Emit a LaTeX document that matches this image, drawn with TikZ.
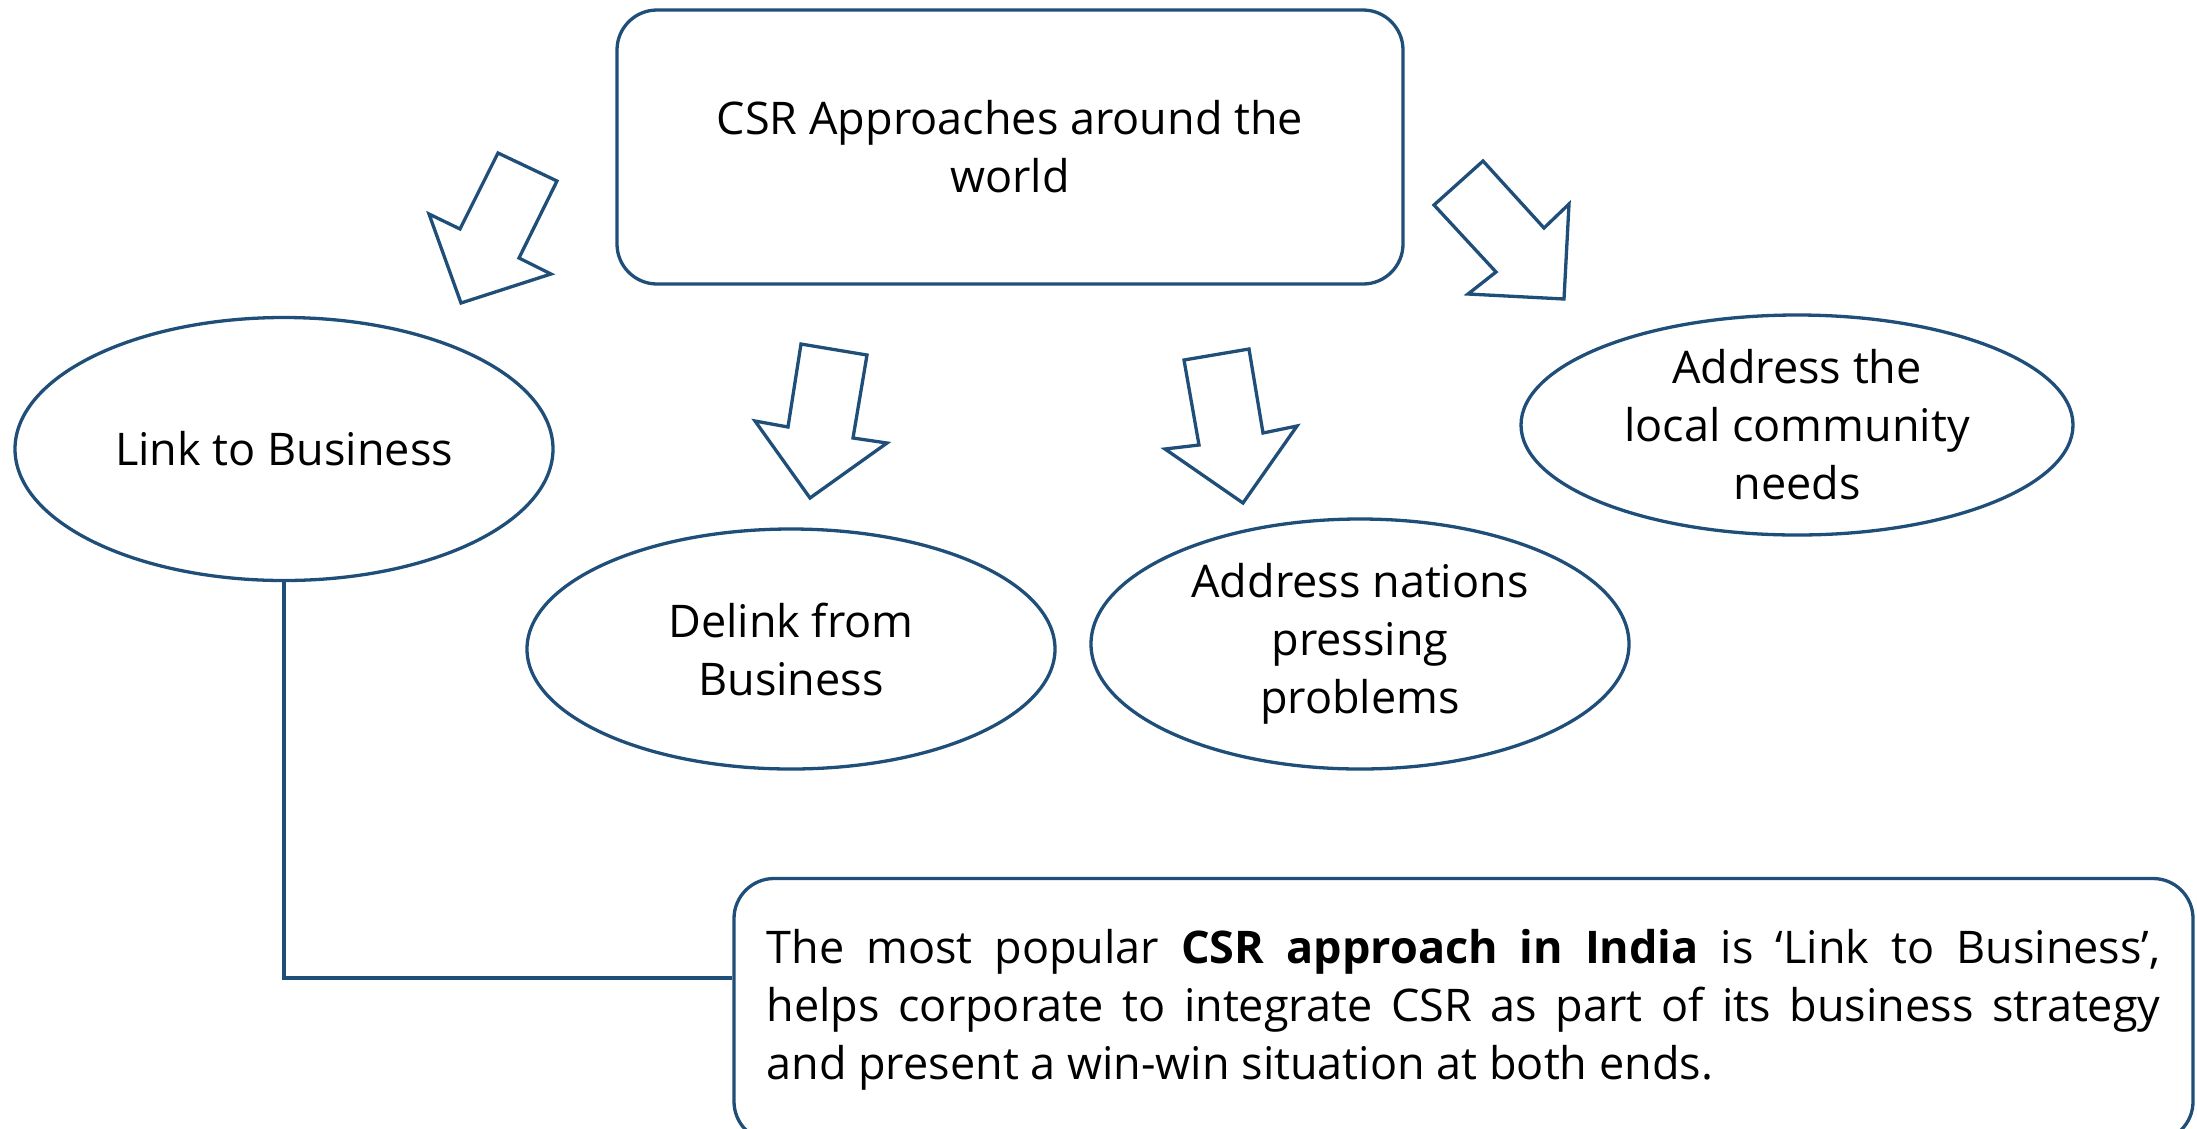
\documentclass[tikz,border=0pt]{standalone}
\usepackage{fontspec}
\setmainfont{Open Sans}
\usetikzlibrary{shapes.geometric,calc}
\definecolor{edgeblue}{RGB}{31,78,121}
\begin{document}
\begin{tikzpicture}[x=1pt,y=-1pt,
  every node/.style={font=\fontsize{45}{58}\selectfont, inner sep=0pt},
  outline/.style={draw=edgeblue, line width=3.3pt},
  topic/.style={outline, ellipse, align=center},
  panel/.style={outline, rounded corners=40pt, fill=white},
  blockarrow/.style={outline, line join=miter, fill=white}]
\useasboundingbox (0,0) rectangle (2197,1128);
\clip (0,0) rectangle (2197,1128);

% central topic
\node[panel, minimum width=786pt, minimum height=274pt, align=center] (root) at (1010,147)
  {CSR Approaches around the\\world};

% the four approaches
\node[topic, minimum width=538pt, minimum height=263pt] (link) at (284,449) {Link to Business};
\node[topic, minimum width=528pt, minimum height=240pt] (delink) at (791,649) {Delink from\\Business};
\node[topic, minimum width=538pt, minimum height=250pt] (nation) at (1360,644) {Address nations\\pressing\\problems};
\node[topic, minimum width=552pt, minimum height=220pt] (local) at (1797,425) {Address the\\local community\\needs};

% block arrows pointing from the topic to each approach
\draw[blockarrow] (498,153) -- (557,181) -- (519,258) -- (551,274) -- (461,303) -- (429,214) -- (460,229) -- cycle;
\draw[blockarrow] (801,344) -- (867,355) -- (853,438) -- (887,443) -- (810,498) -- (755,421) -- (788,427) -- cycle;
\draw[blockarrow] (1184,360) -- (1249,349) -- (1263,433) -- (1297,426) -- (1243,503) -- (1165,449) -- (1199,445) -- cycle;
\draw[blockarrow] (1483,161) -- (1544,228) -- (1569,204) -- (1564,299) -- (1468,294) -- (1496,272) -- (1434,205) -- cycle;

% note on the Indian approach
\node[panel, minimum width=1459pt, minimum height=263pt, text width=1394pt, align=justify] (note) at (1463.5,1010)
  {The most popular \textbf{CSR approach in India} is ‘Link to Business’,\linebreak
   helps corporate to integrate CSR as part of its business strategy\linebreak
   and present a win-win situation at both ends.};

\coordinate (joint) at (284,978);
\draw[outline] (link.south) -- (joint) -- (joint -| note.west);
\end{tikzpicture}
\end{document}
